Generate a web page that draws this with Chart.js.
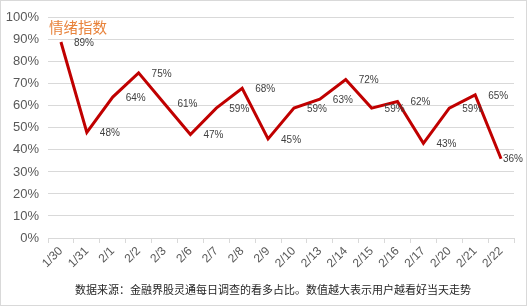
<!DOCTYPE html>
<html>
<head>
<meta charset="utf-8">
<script src="https://cdn.jsdelivr.net/npm/chart.js@4/dist/chart.umd.min.js"></script>
<style>
html,body{margin:0;padding:0;background:#fff;}
#wrap{width:527px;height:306px;box-sizing:border-box;border:1px solid #d9d9d9;position:relative;background:#fff;}
canvas{display:block;}
</style>
</head>
<body>
<div id="wrap"><canvas id="c" width="525" height="304"></canvas></div>
<script>
const categories = ["1/30","1/31","2/1","2/2","2/3","2/6","2/7","2/8","2/9","2/10","2/13","2/14","2/15","2/16","2/17","2/20","2/21","2/22"];
const sentiment = [89,48,64,75,61,47,59,68,45,59,63,72,59,62,43,59,65,36];
const yTicks = [0,10,20,30,40,50,60,70,80,90,100];
const seriesName = "情绪指数";
const footnote = "数据来源：金融界股灵通每日调查的看多占比。数值越大表示用户越看好当天走势";

const FONT = "'Liberation Sans', Arial, 'Noto Sans CJK SC', sans-serif";
const CJK = "'Noto Sans CJK SC', 'Liberation Sans', sans-serif";

const labelPlugin = {
  id: 'labels',
  afterDatasetsDraw(chart) {
    const ctx = chart.ctx;
    const meta = chart.getDatasetMeta(0);
    ctx.save();
    ctx.font = "10px " + FONT;
    ctx.fillStyle = "#404040";
    ctx.textBaseline = "middle";
    ctx.textAlign = "left";
    meta.data.forEach((pt, i) => {
      const txt = sentiment[i] + "%";
      const w = ctx.measureText(txt).width;
      let x = pt.x + 13;
      x = Math.min(x, chart.width - w - 3);
      ctx.fillText(txt, x, pt.y + 1);
    });
    ctx.restore();
  },
  afterDraw(chart) {
    const ctx = chart.ctx;
    ctx.save();
    ctx.font = "14.5px " + CJK;
    ctx.fillStyle = "#E8823A";
    ctx.textBaseline = "middle";
    ctx.textAlign = "left";
    ctx.fillText(seriesName, chart.chartArea.left + 1, 26);
    ctx.font = "11px " + CJK;
    ctx.fillStyle = "#262626";
    ctx.textAlign = "center";
    ctx.fillText(footnote, 272, 289);
    ctx.restore();
  }
};

new Chart(document.getElementById('c'), {
  type: 'line',
  data: {
    labels: categories,
    datasets: [{
      label: seriesName,
      data: sentiment,
      borderColor: '#C00000',
      borderWidth: 3,
      pointRadius: 0,
      tension: 0,
      fill: false
    }]
  },
  options: {
    responsive: false,
    animation: false,
    layout: { padding: { top: 15, right: 12, left: 0, bottom: 0 } },
    plugins: { legend: { display: false }, tooltip: { enabled: false } },
    scales: {
      x: {
        offset: true,
        grid: { display: true, drawOnChartArea: false, drawTicks: true, tickLength: 5, offset: true, color: '#d9d9d9' },
        border: { display: true, color: '#d9d9d9' },
        ticks: { maxRotation: 45, minRotation: 45, autoSkip: false, font: { size: 12, family: FONT }, color: '#595959', padding: 1 },
        afterFit(s) { s.height = 67; }
      },
      y: {
        min: 0, max: 100,
        afterBuildTicks(s) { s.ticks = yTicks.map(v => ({ value: v })); },
        grid: { color: '#d9d9d9', drawTicks: false },
        border: { display: false },
        ticks: { callback: v => v + '%', font: { size: 13, family: FONT }, color: '#595959', padding: 9 },
        afterFit(s) { s.width = 47; }
      }
    }
  },
  plugins: [labelPlugin]
});
</script>
</body>
</html>
